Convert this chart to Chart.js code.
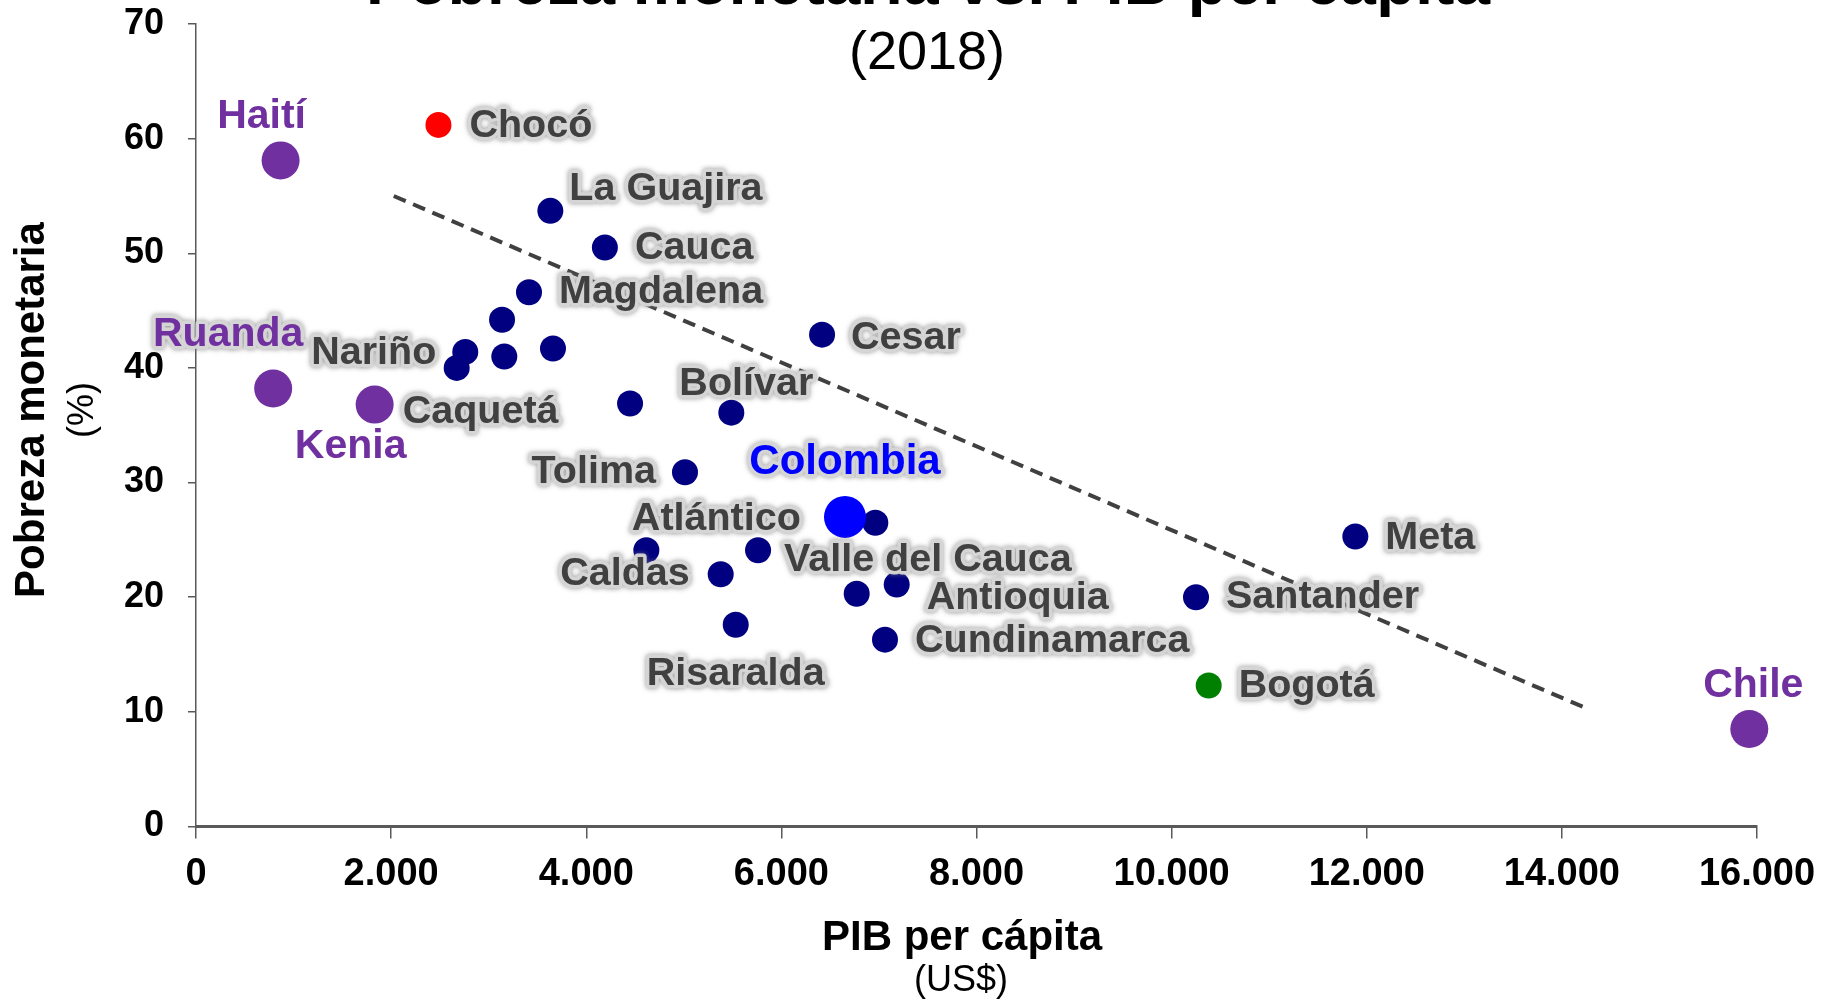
<!DOCTYPE html>
<html>
<head>
<meta charset="utf-8">
<script src="https://cdn.jsdelivr.net/npm/chart.js@4.4.0/dist/chart.umd.min.js"></script>
<style>
  body { margin: 0; background: #fff; }
  #wrap { width: 1833px; height: 1001px; position: relative; }
</style>
</head>
<body>
<div id="wrap"><canvas id="chart"></canvas></div>
<script>
// departamentos de Colombia (PIB per cápita US$, pobreza monetaria %)
const deptNames = ['Chocó', 'La Guajira', 'Cauca', 'Magdalena', '', 'Cesar', '', 'Nariño', '', 'Caquetá',
  '', 'Bolívar', 'Tolima', '', 'Atlántico', 'Valle del Cauca', 'Caldas', 'Antioquia', '', 'Risaralda',
  'Cundinamarca', 'Santander', 'Meta', 'Bogotá'];
const deptGdp = [2485, 3632, 4191, 3413, 3137, 6417, 3659, 2760, 3160, 2672,
  4449, 5487, 5012, 6963, 4616, 5761, 5378, 7182, 6772, 5532,
  7062, 10250, 11883, 10380];
const deptPoverty = [61.2, 53.7, 50.5, 46.6, 44.2, 42.9, 41.7, 41.4, 41.0, 40.0,
  36.9, 36.1, 30.9, 26.5, 24.1, 24.1, 22.0, 21.1, 20.3, 17.6,
  16.3, 20.0, 25.3, 12.3];

// otros países
const countryNames = ['Haití', 'Ruanda', 'Kenia', 'Chile'];
const countryGdp = [867, 791, 1831, 15921];
const countryPoverty = [58.1, 38.2, 36.8, 8.5];

// total nacional
const colName = ['Colombia'];
const colGdp = [6652];
const colPoverty = [27.0];

// línea de tendencia
const trendGdp = [2027, 14212];
const trendPoverty = [55.0, 10.45];

const xTickLabels = ['0', '2.000', '4.000', '6.000', '8.000', '10.000', '12.000', '14.000', '16.000'];
const yTickLabels = ['0', '10', '20', '30', '40', '50', '60', '70'];

const FONT = '"Liberation Sans", Arial, sans-serif';

// label placement relative to each point (pixels)
const labelLayout = {
  'Haití': ['center', -19, -44],
  'Chocó': ['left', 31, 1],
  'La Guajira': ['left', 19, -22],
  'Cauca': ['left', 30, 1],
  'Magdalena': ['left', 30, 0],
  'Cesar': ['left', 29, 3],
  'Nariño': ['right', -29, 1],
  'Ruanda': ['center', -45, -54],
  'Caquetá': ['left', -54, 44],
  'Kenia': ['center', -24, 42],
  'Bolívar': ['center', 15, -29],
  'Tolima': ['right', -29, 0],
  'Colombia': ['center', 0, -55],
  'Atlántico': ['center', 70, -31],
  'Caldas': ['right', -31, 0],
  'Valle del Cauca': ['left', 26, 10],
  'Antioquia': ['left', 30, 14],
  'Cundinamarca': ['left', 30, 1],
  'Risaralda': ['center', 0, 49],
  'Meta': ['left', 30, 2],
  'Santander': ['left', 30, 0],
  'Bogotá': ['left', 30, 1],
  'Chile': ['center', 4, -43]
};

function toPoints(xs, ys) {
  return xs.map((x, i) => ({ x: x, y: ys[i] }));
}

function deptColor(name) {
  if (name === 'Chocó') return '#ff0000';
  if (name === 'Bogotá') return '#008000';
  return '#000080';
}

function drawLabel(ctx, text, x, y, color, glow) {
  ctx.save();
  if (glow) {
    ctx.lineJoin = 'round';
    ctx.shadowColor = 'rgba(120,120,120,0.8)';
    ctx.shadowBlur = 5;
    ctx.strokeStyle = 'rgba(215,215,215,0.95)';
    ctx.lineWidth = 7;
    ctx.strokeText(text, x, y);
    ctx.shadowBlur = 0;
    ctx.shadowColor = 'transparent';
  }
  ctx.fillStyle = color;
  ctx.fillText(text, x, y);
  ctx.restore();
}

const labelPlugin = {
  id: 'pointLabels',
  afterDatasetsDraw(chart) {
    const ctx = chart.ctx;
    const xs = chart.scales.x, ys = chart.scales.y;
    ctx.save();
    ctx.textBaseline = 'middle';
    const groups = [
      [deptNames, deptGdp, deptPoverty, '#404040', true, 39.5],
      [countryNames, countryGdp, countryPoverty, '#7030a0', false, 41],
      [colName, colGdp, colPoverty, '#0000ff', true, 42]
    ];
    groups.forEach(([names, gx, gy, color, glow, size]) => {
      ctx.font = 'bold ' + size + 'px ' + FONT;
      names.forEach((n, i) => {
        const lay = labelLayout[n];
        if (!n || !lay) return;
        const px = xs.getPixelForValue(gx[i]);
        const py = ys.getPixelForValue(gy[i]);
        ctx.textAlign = lay[0];
        drawLabel(ctx, n, px + lay[1], py + lay[2], color, glow || n === 'Ruanda');
      });
    });
    ctx.restore();
  },
  afterDraw(chart) {
    const ctx = chart.ctx;
    ctx.save();
    ctx.fillStyle = '#000';
    ctx.textAlign = 'center';
    ctx.textBaseline = 'alphabetic';
    // título (cortado arriba)
    ctx.font = 'bold 64px ' + FONT;
    ctx.fillText('Pobreza monetaria vs. PIB per cápita', 928, 4);
    ctx.font = '54px ' + FONT;
    ctx.fillText('(2018)', 927, 69);
    // título eje x
    ctx.font = 'bold 42px ' + FONT;
    ctx.fillText('PIB per cápita', 962, 950);
    ctx.font = '36px ' + FONT;
    ctx.fillText('(US$)', 961, 991);
    // título eje y
    ctx.translate(0, 410);
    ctx.rotate(-Math.PI / 2);
    ctx.font = 'bold 42px ' + FONT;
    ctx.fillText('Pobreza monetaria', 0, 44);
    ctx.font = '36px ' + FONT;
    ctx.fillText('(%)', 0, 93);
    ctx.restore();
  }
};

const ctx = document.getElementById('chart').getContext('2d');

new Chart(ctx, {
  type: 'scatter',
  data: {
    datasets: [
      {
        label: 'Colombia',
        data: toPoints(colGdp, colPoverty),
        backgroundColor: '#0000ff',
        pointRadius: 21,
        borderWidth: 0,
        clip: false,
        order: 1
      },
      {
        label: 'Países',
        data: toPoints(countryGdp, countryPoverty),
        backgroundColor: '#7030a0',
        pointRadius: 19,
        borderWidth: 0,
        clip: false,
        order: 2
      },
      {
        label: 'Departamentos',
        data: toPoints(deptGdp, deptPoverty),
        backgroundColor: deptNames.map(deptColor),
        pointRadius: 13,
        borderWidth: 0,
        clip: false,
        order: 3
      },
      {
        label: 'Tendencia',
        data: toPoints(trendGdp, trendPoverty),
        showLine: true,
        borderColor: '#404040',
        borderWidth: 4,
        borderDash: [13, 8],
        pointRadius: 0,
        fill: false,
        order: 4
      }
    ]
  },
  plugins: [labelPlugin],
  options: {
    responsive: true,
    maintainAspectRatio: false,
    devicePixelRatio: 1,
    animation: false,
    layout: { padding: { top: 24, right: 76, left: 0, bottom: 0 } },
    plugins: {
      legend: { display: false },
      tooltip: { enabled: false },
      title: { display: false }
    },
    scales: {
      x: {
        type: 'linear',
        min: 0,
        max: 16000,
        afterFit: (s) => { s.height = 174.5; s.paddingLeft = 0; s.paddingRight = 0; },
        afterBuildTicks: (s) => { s.ticks = xTickLabels.map((t, i) => ({ value: i * 2000 })); },
        ticks: {
          callback: (v, i) => xTickLabels[i],
          color: '#000',
          font: { family: FONT, size: 38, weight: 'bold' },
          padding: 13,
          maxRotation: 0
        },
        grid: { drawOnChartArea: false, tickLength: 12, color: '#595959', lineWidth: 1.5 },
        border: { color: '#595959', width: 3 }
      },
      y: {
        min: 0,
        max: 70,
        afterFit: (s) => { s.width = 196; s.paddingTop = 0; s.paddingBottom = 0; },
        afterBuildTicks: (s) => { s.ticks = yTickLabels.map((t, i) => ({ value: i * 10 })); },
        ticks: {
          callback: (v, i) => yTickLabels[i],
          color: '#000',
          font: { family: FONT, size: 36, weight: 'bold' },
          padding: 24
        },
        grid: { drawOnChartArea: false, tickLength: 8, color: '#595959', lineWidth: 1.5 },
        border: { color: '#595959', width: 1.5 }
      }
    }
  }
});
</script>
</body>
</html>
